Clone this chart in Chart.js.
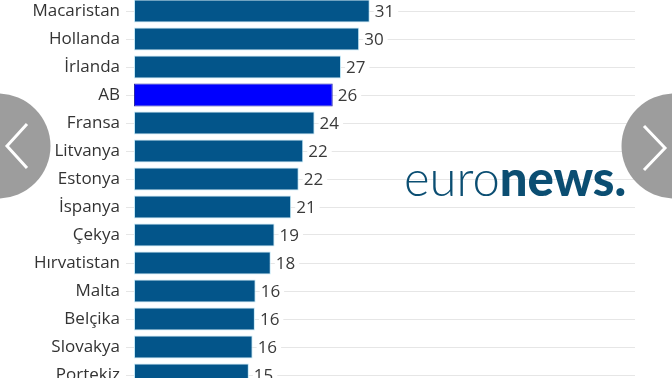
<!DOCTYPE html>
<html>
<head>
<meta charset="utf-8">
<script src="https://cdn.jsdelivr.net/npm/chart.js@4/dist/chart.umd.min.js"></script>
<style>
  html, body { margin: 0; padding: 0; background: #fff; overflow: hidden; }
  #wrap { position: relative; width: 672px; height: 378px; overflow: hidden; }
  #chart { position: absolute; left: 0; top: -3px; }
  .nav { position: absolute; }
  #logo { position: absolute; left: 404px; top: 147px; font-family: "Lato", sans-serif; font-size: 49px;
          color: #0b4e72; line-height: 60px; white-space: nowrap; }
  #logo .a { font-weight: 300; }
  #logo .b { font-weight: 900; }
</style>
</head>
<body>
<div id="wrap">
  <canvas id="chart" width="672" height="392"></canvas>
  <div id="logo"><span class="a">euro</span><span class="b">news.</span></div>
  <svg class="nav" style="left:0;top:0" width="672" height="378">
    <circle cx="-2" cy="146" r="52.5" fill="#9d9d9d"/>
    <polyline points="27,124 7,146 27,168" fill="none" stroke="#fff" stroke-width="3"/>
    <circle cx="674" cy="146" r="52.5" fill="#9d9d9d"/>
    <polyline points="644,126 665,148 644,170" fill="none" stroke="#fff" stroke-width="3"/>
  </svg>
</div>
<script>
// 表示されている国（上下は切れている）
const categories = ["Macaristan", "Hollanda", "İrlanda", "AB", "Fransa", "Litvanya", "Estonya",
  "İspanya", "Çekya", "Hırvatistan", "Malta", "Belçika", "Slovakya", "Portekiz"];
// バーの長さから読んだ値（ラベルは四捨五入）
const values = [31.2, 29.8, 27.4, 26.3, 23.9, 22.4, 21.8, 20.8, 18.6, 18.1, 16.1, 16.0, 15.7, 15.2];
const highlight = "AB";

const BAR = "#03558a";
const BAR_HI = "#0000ff";

// 値ラベル（白背景でグリッド線を隠す）
const valueLabels = {
  id: "valueLabels",
  afterDatasetsDraw(chart) {
    const { ctx } = chart;
    const meta = chart.getDatasetMeta(0);
    ctx.save();
    ctx.font = "17px 'Open Sans'";
    ctx.textBaseline = "middle";
    meta.data.forEach((bar, i) => {
      const txt = String(Math.round(values[i]));
      const x = bar.x + 5;
      const w = ctx.measureText(txt).width;
      ctx.fillStyle = "#fff";
      ctx.fillRect(x - 1, bar.y - 9, w + 5, 18);
      ctx.fillStyle = "#3a3a3a";
      ctx.fillText(txt, x, bar.y + 1);
    });
    ctx.restore();
  }
};

chart = new Chart(document.getElementById("chart"), {
  type: "bar",
  data: {
    labels: categories,
    datasets: [{
      data: values,
      backgroundColor: categories.map(c => c === highlight ? BAR_HI : BAR),
      borderColor: categories.map(c => c === highlight ? "#2a2aa8" : "#c4e8f6"),
      borderWidth: 1,
      borderSkipped: false,
      categoryPercentage: 1,
      barPercentage: 0.83
    }]
  },
  options: {
    indexAxis: "y",
    responsive: false,
    animation: false,
    layout: { padding: { top: 0, bottom: 0, left: 0, right: 37 } },
    plugins: { legend: { display: false }, tooltip: { enabled: false } },
    scales: {
      x: { display: false, min: 0, max: 66.3 },
      y: {
        afterFit(scale) { scale.width = 134; scale.paddingTop = 0; scale.paddingBottom = 0; },
        border: { display: false },
        grid: { offset: false, color: "#e6e6e6", lineWidth: 1, tickLength: 8 },
        ticks: { color: "#333", padding: 6, font: { family: "'Open Sans'", size: 17 } }
      }
    }
  },
  plugins: [valueLabels]
});
</script>
</body>
</html>
